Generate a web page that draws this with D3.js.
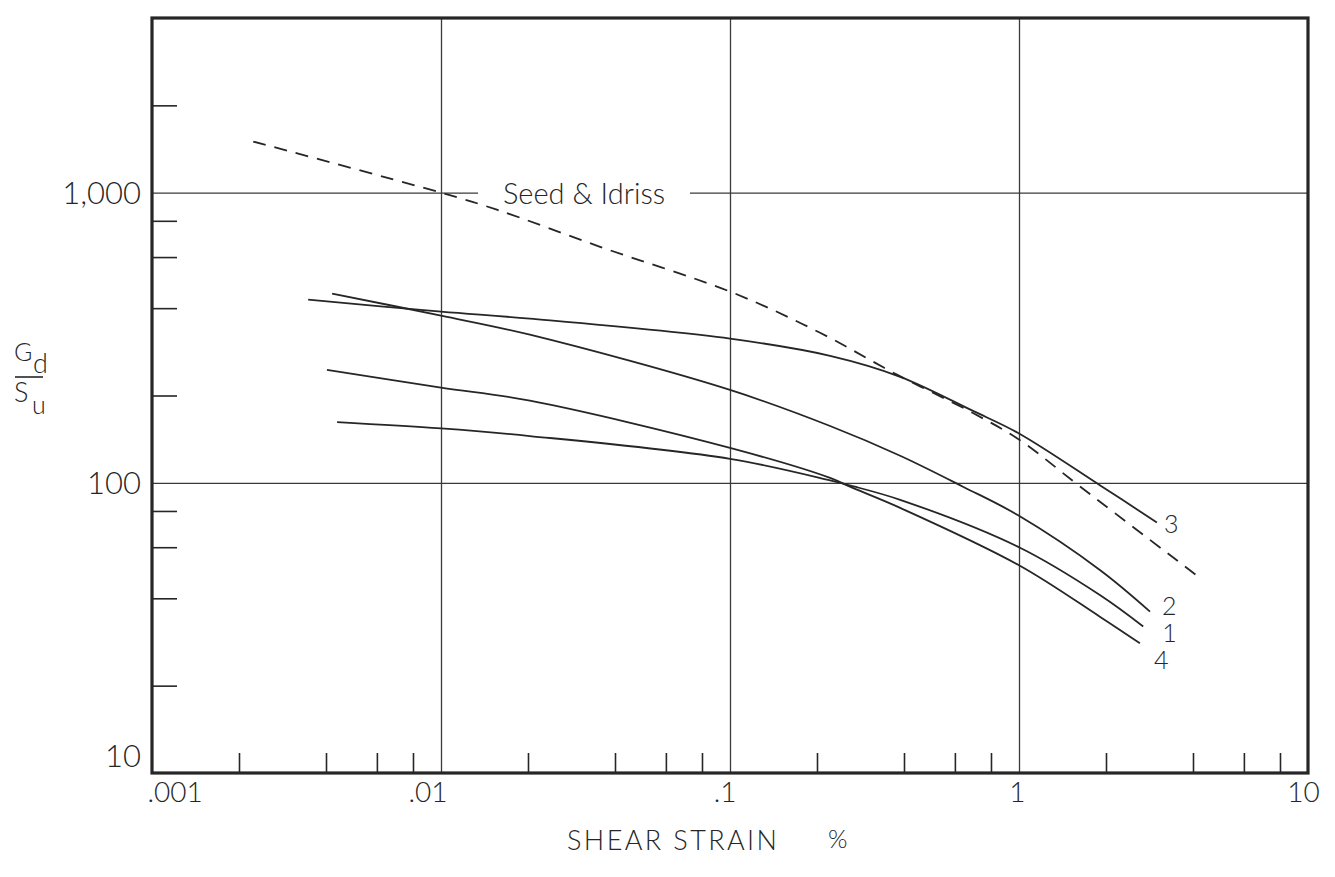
<!DOCTYPE html>
<html>
<head>
<meta charset="utf-8">
<script src="https://cdn.jsdelivr.net/npm/d3@7"></script>
<style>
  html, body { margin: 0; padding: 0; background: #fff; }
  svg text { font-family: "Lato", "Liberation Sans", sans-serif; font-weight: 300; fill: #262626; }
</style>
</head>
<body>
<svg id="chart" width="1335" height="877"></svg>
<script>
// Shear strain (%) vs. Gd/Su, log-log
const xMajorTicks = [0.001, 0.01, 0.1, 1, 10];
const xMajorLabels = [".001", ".01", ".1", "1", "10"];
const xMinorTicks = [0.002, 0.004, 0.006, 0.008, 0.02, 0.04, 0.06, 0.08,
                     0.2, 0.4, 0.6, 0.8, 2, 4, 6, 8];
const xGrid = [0.01, 0.1, 1];

const yMajorTicks = [10, 100, 1000];
const yMajorLabels = ["10", "100", "1,000"];
const yMinorTicks = [20, 40, 60, 80, 200, 400, 600, 800, 2000];
const yGrid = [100, 1000];

// Seed & Idriss reference curve (dashed)
const seedIdriss = [[0.00224, 1500], [0.01, 1000], [0.0156, 874], [0.0355, 651],
                    [0.1024, 452], [0.205, 329], [0.378, 236], [0.693, 174],
                    [1.0, 141], [1.63, 97], [4.23, 47]];
// Test curves
const curve3 = [[0.00347, 428], [0.01, 389], [0.0203, 368], [0.1, 314], [0.222, 274],
                [0.388, 232], [0.693, 177], [1.0, 148], [1.91, 98], [3.0, 73]];
const curve2 = [[0.0042, 449], [0.01, 377], [0.0203, 324], [0.1, 209], [0.222, 157],
                [0.388, 124], [0.64, 97], [1.0, 77], [1.91, 50], [2.84, 36]];
const curve1 = [[0.00437, 162], [0.01, 154], [0.0203, 145], [0.1, 121], [0.222, 102],
                [0.26, 98], [0.388, 87.4], [1.0, 60], [1.91, 41], [2.69, 32]];
const curve4 = [[0.00403, 245], [0.01, 213], [0.0203, 192], [0.1, 132], [0.222, 104],
                [0.26, 97], [0.388, 82], [1.0, 52], [1.91, 34.5], [2.62, 28]];
const curveNames = ["3", "2", "1", "4"];

const svg = d3.select("#chart");
const plotL = 152, plotR = 1308, plotT = 18, plotB = 773;
const ink = "#262626";

const x = d3.scaleLog().domain([0.001, 10]).range([plotL, plotR]);
const y = d3.scaleLog().domain([10, 4000]).range([plotB, plotT]);

// grid lines
svg.append("g")
  .attr("transform", `translate(0,${plotB})`)
  .call(d3.axisBottom(x).tickValues(xGrid).tickSize(-(plotB - plotT)).tickFormat(""))
  .call(g => g.select(".domain").remove())
  .call(g => g.selectAll("line").attr("stroke", "#3a3a3a").attr("stroke-width", 1.3));

svg.append("g")
  .attr("transform", `translate(${plotL},0)`)
  .call(d3.axisLeft(y).tickValues(yGrid).tickSize(-(plotR - plotL)).tickFormat(""))
  .call(g => g.select(".domain").remove())
  .call(g => g.selectAll("line").attr("stroke", "#3a3a3a").attr("stroke-width", 1.3));

// minor ticks, drawn inward
svg.append("g")
  .attr("transform", `translate(0,${plotB})`)
  .call(d3.axisBottom(x).tickValues(xMinorTicks).tickSize(-20).tickFormat(""))
  .call(g => g.select(".domain").remove())
  .call(g => g.selectAll("line").attr("stroke", ink).attr("stroke-width", 1.6));

svg.append("g")
  .attr("transform", `translate(${plotL},0)`)
  .call(d3.axisLeft(y).tickValues(yMinorTicks).tickSize(-25).tickFormat(""))
  .call(g => g.select(".domain").remove())
  .call(g => g.selectAll("line").attr("stroke", ink).attr("stroke-width", 1.6));

// frame
svg.append("rect")
  .attr("x", plotL).attr("y", plotT)
  .attr("width", plotR - plotL).attr("height", plotB - plotT)
  .attr("fill", "none").attr("stroke", ink).attr("stroke-width", 3.2);

// x tick labels
const xl = svg.append("g")
  .attr("transform", `translate(0,${plotB})`)
  .call(d3.axisBottom(x).tickValues(xMajorTicks).tickSize(0).tickPadding(29)
    .tickFormat((d, i) => xMajorLabels[i]))
  .call(g => g.select(".domain").remove());
xl.selectAll("text")
  .attr("font-size", 28)
  .attr("fill", ink)
  .attr("text-anchor", (d, i) => i === 0 ? "start" : (i === xMajorTicks.length - 1 ? "middle" : "end"))
  .attr("dx", (d, i) => i === 0 ? -5 : (i === xMajorTicks.length - 1 ? -5 : 6))
  .attr("dy", 0);

// y tick labels
const yl = svg.append("g")
  .attr("transform", `translate(${plotL},0)`)
  .call(d3.axisLeft(y).tickValues(yMajorTicks).tickSize(0).tickPadding(11)
    .tickFormat((d, i) => yMajorLabels[i]))
  .call(g => g.select(".domain").remove());
yl.selectAll("text")
  .attr("font-size", 31)
  .attr("fill", ink)
  .attr("dy", (d) => d === 10 ? "-0.2em" : "0.35em");

// axis titles
svg.append("text")
  .attr("x", 567).attr("y", 850)
  .attr("font-size", 27).attr("letter-spacing", 2.4)
  .text("SHEAR STRAIN");
svg.append("text")
  .attr("x", 828).attr("y", 848)
  .attr("font-size", 25)
  .text("%");

const yt = svg.append("g");
yt.append("text").attr("x", 14).attr("y", 361).attr("font-size", 25).text("G");
yt.append("text").attr("x", 33).attr("y", 373).attr("font-size", 27).text("d");
yt.append("line").attr("x1", 15).attr("x2", 43).attr("y1", 377).attr("y2", 377)
  .attr("stroke", ink).attr("stroke-width", 1.6);
yt.append("text").attr("x", 14).attr("y", 402).attr("font-size", 27).text("S");
yt.append("text").attr("x", 32).attr("y", 414).attr("font-size", 25).text("u");

// curves
const line = d3.line()
  .x(d => x(d[0]))
  .y(d => y(d[1]))
  .curve(d3.curveCatmullRom.alpha(0.5));

svg.append("path")
  .datum(seedIdriss)
  .attr("d", line)
  .attr("fill", "none").attr("stroke", ink).attr("stroke-width", 1.8)
  .attr("stroke-dasharray", "13,9");

const series = [curve3, curve2, curve1, curve4];
svg.selectAll("path.test")
  .data(series)
  .join("path")
  .attr("class", "test")
  .attr("d", line)
  .attr("fill", "none").attr("stroke", ink).attr("stroke-width", 1.8);

// curve end labels
const labelOffset = [[7, 10], [12, 3], [19, 16], [14, 26]];
svg.selectAll("text.curve-label")
  .data(series)
  .join("text")
  .attr("class", "curve-label")
  .attr("x", (d, i) => x(d[d.length - 1][0]) + labelOffset[i][0])
  .attr("y", (d, i) => y(d[d.length - 1][1]) + labelOffset[i][1])
  .attr("font-size", 25)
  .text((d, i) => curveNames[i]);

// Seed & Idriss label on a break in the 1,000 grid line
const lblY = y(1000);
svg.append("rect")
  .attr("x", 478).attr("y", lblY - 5).attr("width", 212).attr("height", 10)
  .attr("fill", "#fff");
svg.append("text")
  .attr("x", 503).attr("y", lblY + 11)
  .attr("font-size", 29)
  .text("Seed & Idriss");
</script>
</body>
</html>
